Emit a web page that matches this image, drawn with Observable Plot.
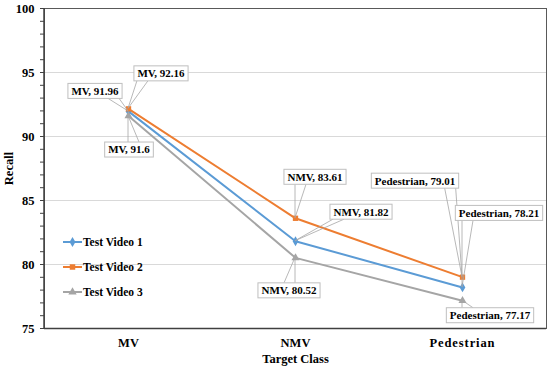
<!DOCTYPE html>
<html>
<head>
<meta charset="utf-8">
<script src="https://cdn.jsdelivr.net/npm/d3@7"></script>
<script src="https://cdn.jsdelivr.net/npm/@observablehq/plot@0.6"></script>
<style>
  html, body { margin: 0; padding: 0; background: #fff; }
  #chart { width: 550px; height: 370px; }
</style>
</head>
<body>
<div id="chart"></div>
<script>
const categories = ["MV", "NMV", "Pedestrian"];
const seriesNames = ["Test Video 1", "Test Video 2", "Test Video 3"];
const video1 = [91.96, 81.82, 78.21];
const video2 = [92.16, 83.61, 79.01];
const video3 = [91.6, 80.52, 77.17];
const yTicks = [75, 80, 85, 90, 95, 100];
const gridTicks = [80, 85, 90, 95];

// styling / layout (not data)
const colors = ["#5B9BD5", "#ED7D31", "#A5A5A5"];
const symbols = ["diamond", "square", "triangle"];
const labelOffsets = [
  [[-33, -20], [66, -29], [37, -74]],
  [[33, -35], [20, -41], [-47, -96]],
  [[1, 34], [-6, 33], [28, 15]]
];

const allValues = [video1, video2, video3];
const data = seriesNames.flatMap((s, i) =>
  categories.map((c, j) => ({series: s, cls: c, value: allValues[i][j], si: i, ci: j}))
);

const FONT = "Liberation Serif";
const canvas = document.createElement("canvas");
const ctx = canvas.getContext("2d");

function annotations(index, scales) {
  const g = d3.create("svg:g");
  ctx.font = `bold 11px "Liberation Serif"`;
  const leaders = g.append("g").attr("fill", "none").attr("stroke", "#a6a6a6").attr("stroke-width", 0.8);
  const boxes = g.append("g");
  for (const d of data) {
    const px = scales.x(d.cls), py = scales.y(d.value);
    const off = labelOffsets[d.si][d.ci];
    const label = `${d.cls}, ${d.value}`;
    const w = ctx.measureText(label).width + 7, h = 15;
    const cx = px + off[0], cy = py + off[1];
    const L = cx - w / 2, R = cx + w / 2, T = cy - h / 2, B = cy + h / 2;
    let a1, a2;
    const clamp = (v, a, b) => Math.max(a, Math.min(b, v));
    if (py > B) {
      const x0 = clamp(px, L + 3, R - 3); const x1 = x0 + (x0 > cx ? -11 : 11);
      a1 = [x0, B]; a2 = [x1, B];
    } else if (py < T) {
      const x0 = clamp(px, L + 3, R - 3); const x1 = x0 + (x0 > cx ? -11 : 11);
      a1 = [x0, T]; a2 = [x1, T];
    } else if (px < L) {
      const y0 = clamp(py, T + 2, B - 2); a1 = [L, y0]; a2 = [L, y0 + (y0 > cy ? -6 : 6)];
    } else {
      const y0 = clamp(py, T + 2, B - 2); a1 = [R, y0]; a2 = [R, y0 + (y0 > cy ? -6 : 6)];
    }
    leaders.append("path").attr("d", `M${a1}L${px},${py}L${a2}`);
    boxes.append("rect").attr("x", L).attr("y", T).attr("width", w).attr("height", h)
      .attr("fill", "#fff").attr("stroke", "#bfbfbf").attr("stroke-width", 1);
    boxes.append("text").attr("x", cx).attr("y", cy).attr("dy", "0.35em")
      .attr("text-anchor", "middle").attr("font-weight", "bold")
      .attr("font-size", 11).attr("fill", "#000").text(label);
  }
  // legend
  const lg = g.append("g");
  seriesNames.forEach((s, i) => {
    const y = 242 + i * 25;
    lg.append("line").attr("x1", 63).attr("x2", 82).attr("y1", y).attr("y2", y)
      .attr("stroke", colors[i]).attr("stroke-width", 2);
    const sym = [d3.symbolDiamond, d3.symbolSquare, d3.symbolTriangle][i];
    lg.append("path").attr("transform", `translate(72.5,${y})`)
      .attr("d", d3.symbol(sym, 30)()).attr("fill", colors[i]);
    lg.append("text").attr("x", 83).attr("y", y).attr("dy", "0.35em")
      .attr("text-anchor", "start").attr("font-weight", "bold").attr("font-size", 11.5)
      .attr("fill", "#000").text(s);
  });
  return g.node();
}

const plot = Plot.plot({
  width: 550,
  height: 370,
  marginLeft: 44,
  marginRight: 4,
  marginTop: 8,
  marginBottom: 42,
  x: {type: "point", domain: categories, padding: 0.5},
  y: {domain: [75, 100]},
  color: {domain: seriesNames, range: colors},
  symbol: {domain: seriesNames, range: symbols},
  marks: [
    Plot.gridY(gridTicks, {stroke: "#d9d9d9", strokeOpacity: 1}),
    Plot.frame({stroke: "#595959", strokeWidth: 1}),
    Plot.axisY(d3.range(75, 101), {
      tickSize: 4, tickPadding: 6, stroke: "#404040", fontSize: 12.5,
      tickFormat: d => yTicks.includes(d) ? d : "",
      label: "Recall", labelAnchor: "center", labelOffset: 40, labelArrow: "none"
    }),
    Plot.axisX({
      tickSize: 0, tickPadding: 10, fontSize: 12.5,
      label: "Target Class", labelAnchor: "center", labelOffset: 34, labelArrow: "none"
    }),
    Plot.line(data, {x: "cls", y: "value", z: "series", stroke: "series", strokeWidth: 2}),
    Plot.dot(data, {x: "cls", y: "value", symbol: "series", fill: "series", r: 3}),
    Plot.ruleY([75], {stroke: "#404040", strokeWidth: 1.5}),
    annotations
  ]
});

const svg = d3.select(plot);
svg.attr("font-family", FONT).attr("font-weight", "bold").style("font-family", null);
svg.append("line").attr("x1", 44).attr("x2", 44).attr("y1", 8).attr("y2", 328)
  .attr("stroke", "#404040").attr("stroke-width", 1.5);
svg.selectAll("g, text").attr("font-family", FONT).style("font-family", FONT).attr("font-weight", "bold").attr("fill", function() {
  return this.tagName === "text" ? "#000" : this.getAttribute("fill");
});
svg.selectAll("text").filter(function() { return this.textContent === "Pedestrian"; })
  .attr("letter-spacing", "0.9px");
document.getElementById("chart").appendChild(plot);
</script>
</body>
</html>
